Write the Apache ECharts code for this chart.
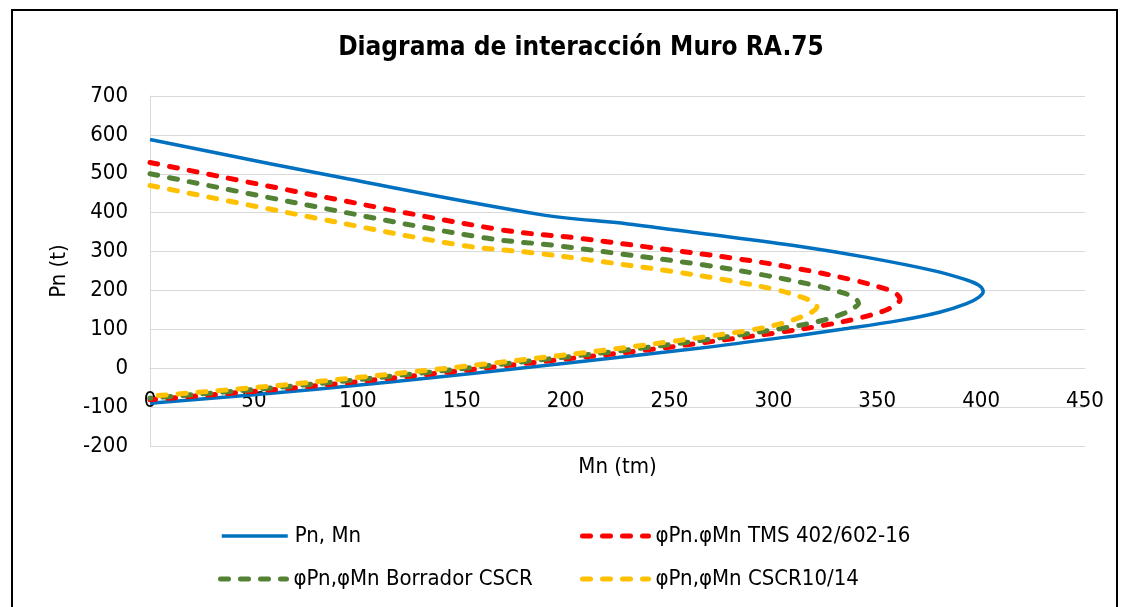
<!DOCTYPE html>
<html>
<head>
<meta charset="utf-8">
<script src="https://cdn.jsdelivr.net/npm/echarts@6/dist/echarts.min.js"></script>
<style>
  html, body { margin: 0; padding: 0; background: #ffffff; }
  #chart { width: 1130px; height: 607px; }
</style>
</head>
<body>
<div id="chart"></div>
<script>
// Interaction diagram of wall RA.75: nominal curve and three design (phi-reduced) curves.
// Each point is [Mn (tm), Pn (t)], walked from pure compression round to pure tension.
const pnMn = [
  [0, 588], [95, 487], [188, 395], [230, 371], [265, 347], [313, 313], [345, 285],
  [377, 251], [393, 227], [399, 213], [401, 197], [399, 183], [393, 166], [380, 144],
  [361, 123], [333, 100], [313, 85], [265, 52], [200, 13], [156, -13], [80, -54], [0, -90]
];
const phiTms = [
  [0, 529], [86, 438], [169, 356], [207, 334], [239, 312], [282, 282], [311, 257],
  [339, 226], [354, 204], [359, 192], [361, 177], [359, 165], [354, 149], [342, 130],
  [325, 111], [300, 90], [282, 77], [239, 47], [180, 12], [140, -12], [72, -49], [0, -81]
];
const phiBorrador = [
  [0, 500], [81, 414], [160, 336], [196, 315], [225, 295], [266, 266], [293, 242],
  [320, 213], [334, 193], [339, 181], [341, 167], [339, 156], [334, 141], [323, 122],
  [307, 105], [283, 85], [266, 72], [225, 44], [170, 11], [133, -11], [68, -46], [0, -77]
];
const phiCscr = [
  [0, 470], [76, 390], [150, 316], [184, 297], [212, 278], [250, 250], [276, 228],
  [302, 201], [314, 182], [319, 170], [321, 158], [319, 146], [314, 133], [304, 115],
  [289, 98], [266, 80], [250, 68], [212, 42], [160, 10], [125, -10], [64, -43], [0, -72]
];

const seriesNames = [
  'Pn, Mn',
  '\u03C6Pn.\u03C6Mn TMS 402/602-16',
  '\u03C6Pn,\u03C6Mn Borrador CSCR',
  '\u03C6Pn,\u03C6Mn CSCR10/14'
];
const titleText = 'Diagrama de interacción Muro RA.75';
const xName = 'Mn (tm)';
const yName = 'Pn (t)';

const FONT = '"DejaVu Sans Condensed", "Liberation Sans Narrow", "DejaVu Sans", sans-serif';
const colors = ['#0070C0', '#FF0000', '#548235', '#FFC000'];
const dash = [8, 12];

// Plot box in pixels; the Mn axis is drawn across the Pn = 0 level.
const PLOT_TOP = 96, PLOT_BOTTOM = 446;
const Y_MIN = -200, Y_MAX = 700;
const zeroOffset = -(PLOT_BOTTOM - PLOT_TOP) * (0 - Y_MIN) / (Y_MAX - Y_MIN);

const chart = echarts.init(document.getElementById('chart'), null, { renderer: 'canvas' });

function legendFor(i, left, top) {
  const dashed = i > 0;
  return {
    data: [seriesNames[i]],
    left: left,
    top: top,
    itemWidth: 66,
    itemHeight: 14,
    padding: 0,
    selectedMode: false,
    textStyle: { fontFamily: FONT, fontSize: 22, color: '#000000', padding: [0, 0, 0, 2] },
    lineStyle: {
      width: dashed ? 5 : 3.5,
      type: dashed ? dash : 'solid',
      cap: dashed ? 'round' : 'butt',
      color: colors[i]
    },
    itemStyle: { opacity: 0 }
  };
}

function lineSeries(i, data) {
  const dashed = i > 0;
  return {
    name: seriesNames[i],
    type: 'line',
    data: data,
    smooth: 0.35,
    symbol: 'none',
    showSymbol: false,
    color: colors[i],
    lineStyle: {
      color: colors[i],
      width: dashed ? 5 : 3.5,
      type: dashed ? dash : 'solid',
      cap: dashed ? 'round' : 'butt'
    },
    z: 2 + i
  };
}

chart.setOption({
  animation: false,
  backgroundColor: '#ffffff',
  title: {
    text: titleText,
    left: 576,
    top: 30,
    textAlign: 'center',
    textStyle: { fontFamily: FONT, fontSize: 26, fontWeight: 'bold', color: '#000000' }
  },
  legend: [
    legendFor(0, 220, 525),
    legendFor(1, 580, 525),
    legendFor(2, 218, 568),
    legendFor(3, 580, 568)
  ],
  grid: { left: 150, right: 45, top: PLOT_TOP, bottom: 607 - PLOT_BOTTOM, containLabel: false },
  xAxis: {
    type: 'value',
    min: 0,
    max: 450,
    interval: 50,
    position: 'bottom',
    offset: zeroOffset,
    name: xName,
    nameLocation: 'middle',
    nameGap: 88,
    nameTextStyle: { fontFamily: FONT, fontSize: 22, color: '#000000' },
    axisLine: { show: true, onZero: false, lineStyle: { color: '#d9d9d9', width: 1 } },
    axisTick: { show: false },
    axisLabel: { fontFamily: FONT, fontSize: 22, color: '#000000', margin: 22 },
    splitLine: { show: false }
  },
  yAxis: {
    type: 'value',
    min: Y_MIN,
    max: Y_MAX,
    interval: 100,
    name: yName,
    nameLocation: 'middle',
    nameGap: 80,
    nameRotate: 90,
    nameTextStyle: { fontFamily: FONT, fontSize: 22, color: '#000000' },
    axisLine: { show: true, lineStyle: { color: '#d9d9d9', width: 1 } },
    axisTick: { show: false },
    axisLabel: { fontFamily: FONT, fontSize: 22, color: '#000000', margin: 22 },
    splitLine: { show: true, lineStyle: { color: '#d9d9d9', width: 1 } }
  },
  graphic: [{
    type: 'rect',
    shape: { x: 12, y: 10, width: 1105, height: 620 },
    style: { fill: 'none', stroke: '#000000', lineWidth: 2 },
    silent: true,
    z: 100
  }],
  series: [
    lineSeries(0, pnMn),
    lineSeries(1, phiTms),
    lineSeries(2, phiBorrador),
    lineSeries(3, phiCscr)
  ]
});
</script>
</body>
</html>
